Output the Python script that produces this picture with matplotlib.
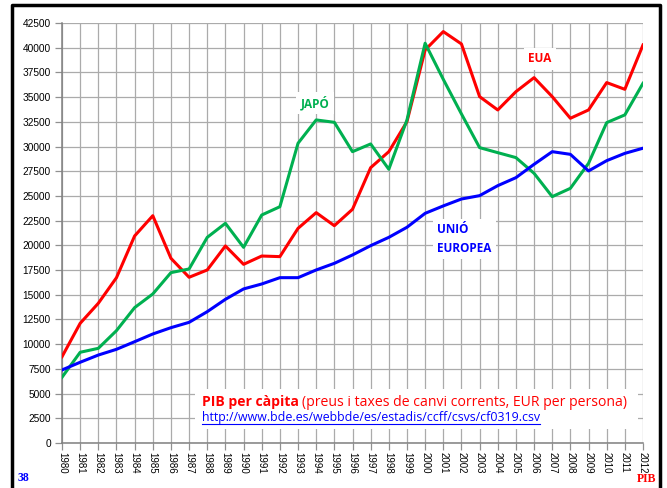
import numpy as np
import matplotlib.pyplot as plt
from matplotlib.lines import Line2D
from matplotlib.patches import Rectangle

years = list(range(1980, 2013))

# PIB per capita, EUR per persona (llegit del grafic)
eua = [8730, 12110, 14140, 16730, 20950, 23000, 18690, 16770, 17510, 19940,
       18080, 18920, 18860, 21720, 23310, 21990, 23650, 27860, 29480, 32520,
       39770, 41630, 40380, 35050, 33700, 35550, 36970, 35050, 32860, 33700,
       36470, 35790, 40280]
japo = [6650, 9180, 9580, 11370, 13700, 15080, 17240, 17610, 20810, 22230,
        19800, 23070, 23910, 30330, 32690, 32450, 29480, 30260, 27700, 32690,
        40450, 36800, 33300, 29890, 29380, 28880, 27290, 24930, 25770, 28300,
        32420, 33200, 36400]
ue = [7390, 8170, 8900, 9480, 10250, 11030, 11670, 12210, 13290, 14540,
      15590, 16090, 16730, 16730, 17510, 18180, 19030, 19970, 20810, 21830,
      23240, 23990, 24690, 25030, 26040, 26850, 28200, 29480, 29210, 27530,
      28570, 29310, 29830]

yticks = list(range(0, 42501, 2500))

W, H = 667, 488
fig = plt.figure(figsize=(W / 100, H / 100), dpi=100)
ax = fig.add_axes([62 / W, 1 - 443 / H, (643 - 62) / W, (443 - 23) / H])

grid_c = '#ababab'
ax.set_axisbelow(True)
ax.grid(True, color=grid_c, linewidth=0.9)
ax.set_xlim(1980, 2012)
ax.set_ylim(0, 42500)
ax.set_xticks(years)
ax.set_xticklabels([str(y) for y in years], rotation=-90,
                   fontsize=7, family='Liberation Sans')
ax.set_yticks(yticks)
ax.set_yticklabels([str(v) for v in yticks], fontsize=7.3, family='Liberation Sans')
ax.tick_params(axis='both', length=5, color='#909090', width=0.9, pad=3)
ax.tick_params(axis='x', pad=1.5)
for s in ['top', 'right']:
    ax.spines[s].set_visible(False)
for s in ['left', 'bottom']:
    ax.spines[s].set_color('#808080')
    ax.spines[s].set_linewidth(1.1)

ax.plot(years, eua, color='#ff0000', linewidth=2.2, zorder=3)
ax.plot(years, japo, color='#00b050', linewidth=2.2, zorder=3)
ax.plot(years, ue, color='#0000ff', linewidth=2.2, zorder=3)

# caixa blanca del titol
ax.add_patch(Rectangle((195 / W, 1 - 429 / H), (638 - 195) / W, (429 - 389) / H,
                       transform=fig.transFigure, facecolor='white',
                       edgecolor='none', zorder=1.5))

lab = dict(fontsize=8.5, fontweight='bold', family='Open Sans', zorder=4,
           bbox=dict(facecolor='white', edgecolor='none', pad=3))
fig.text(315 / W, 1 - 103 / H, 'JAPÓ', color='#00b050', ha='center', va='center', **lab)
fig.text(540 / W, 1 - 59 / H, 'EUA', color='#ff0000', ha='center', va='center', **lab)
fig.text(437 / W, 1 - 239 / H, 'UNIÓ\nEUROPEA', color='#0000ff', ha='left',
         va='center', linespacing=1.6, **lab)

t1 = fig.text(202 / W, 1 - 402 / H, 'PIB per càpita', color='#ff0000', fontsize=10.1,
              fontweight='bold', family='Open Sans', va='center', zorder=4)
fig.canvas.draw()
rend = fig.canvas.get_renderer()
bb = t1.get_window_extent(rend)
fig.text(bb.x1 / W + 3 / W, 1 - 402 / H, '(preus i taxes de canvi corrents, EUR per persona)',
         color='#ff0000', fontsize=10.1, family='Open Sans', va='center', zorder=4)
url = fig.text(202 / W, 1 - 418 / H, 'http://www.bde.es/webbde/es/estadis/ccff/csvs/cf0319.csv',
               color='#0000ff', fontsize=8.9, family='Open Sans', va='center', zorder=4)
ub = url.get_window_extent(rend)
fig.add_artist(Line2D([ub.x0 / W, ub.x1 / W], [1 - 424 / H, 1 - 424 / H], color='#0000ff',
                      linewidth=0.8))

fig.text(18 / W, 1 - 478 / H, '38', color='#0000ff', fontsize=8.5, fontweight='bold',
         family='Liberation Serif', va='center')
fig.text(656 / W, 1 - 479 / H, 'PIB', color='#ff0000', fontsize=8.5, fontweight='bold',
         family='Liberation Serif', va='center', ha='right')

# marc negre
fig.add_artist(Line2D([12 / W, 12 / W, 660 / W, 660 / W], [0, 1 - 5 / H, 1 - 5 / H, 0],
                      color='black', linewidth=2.5))

fig.savefig('out.png', dpi=100)
